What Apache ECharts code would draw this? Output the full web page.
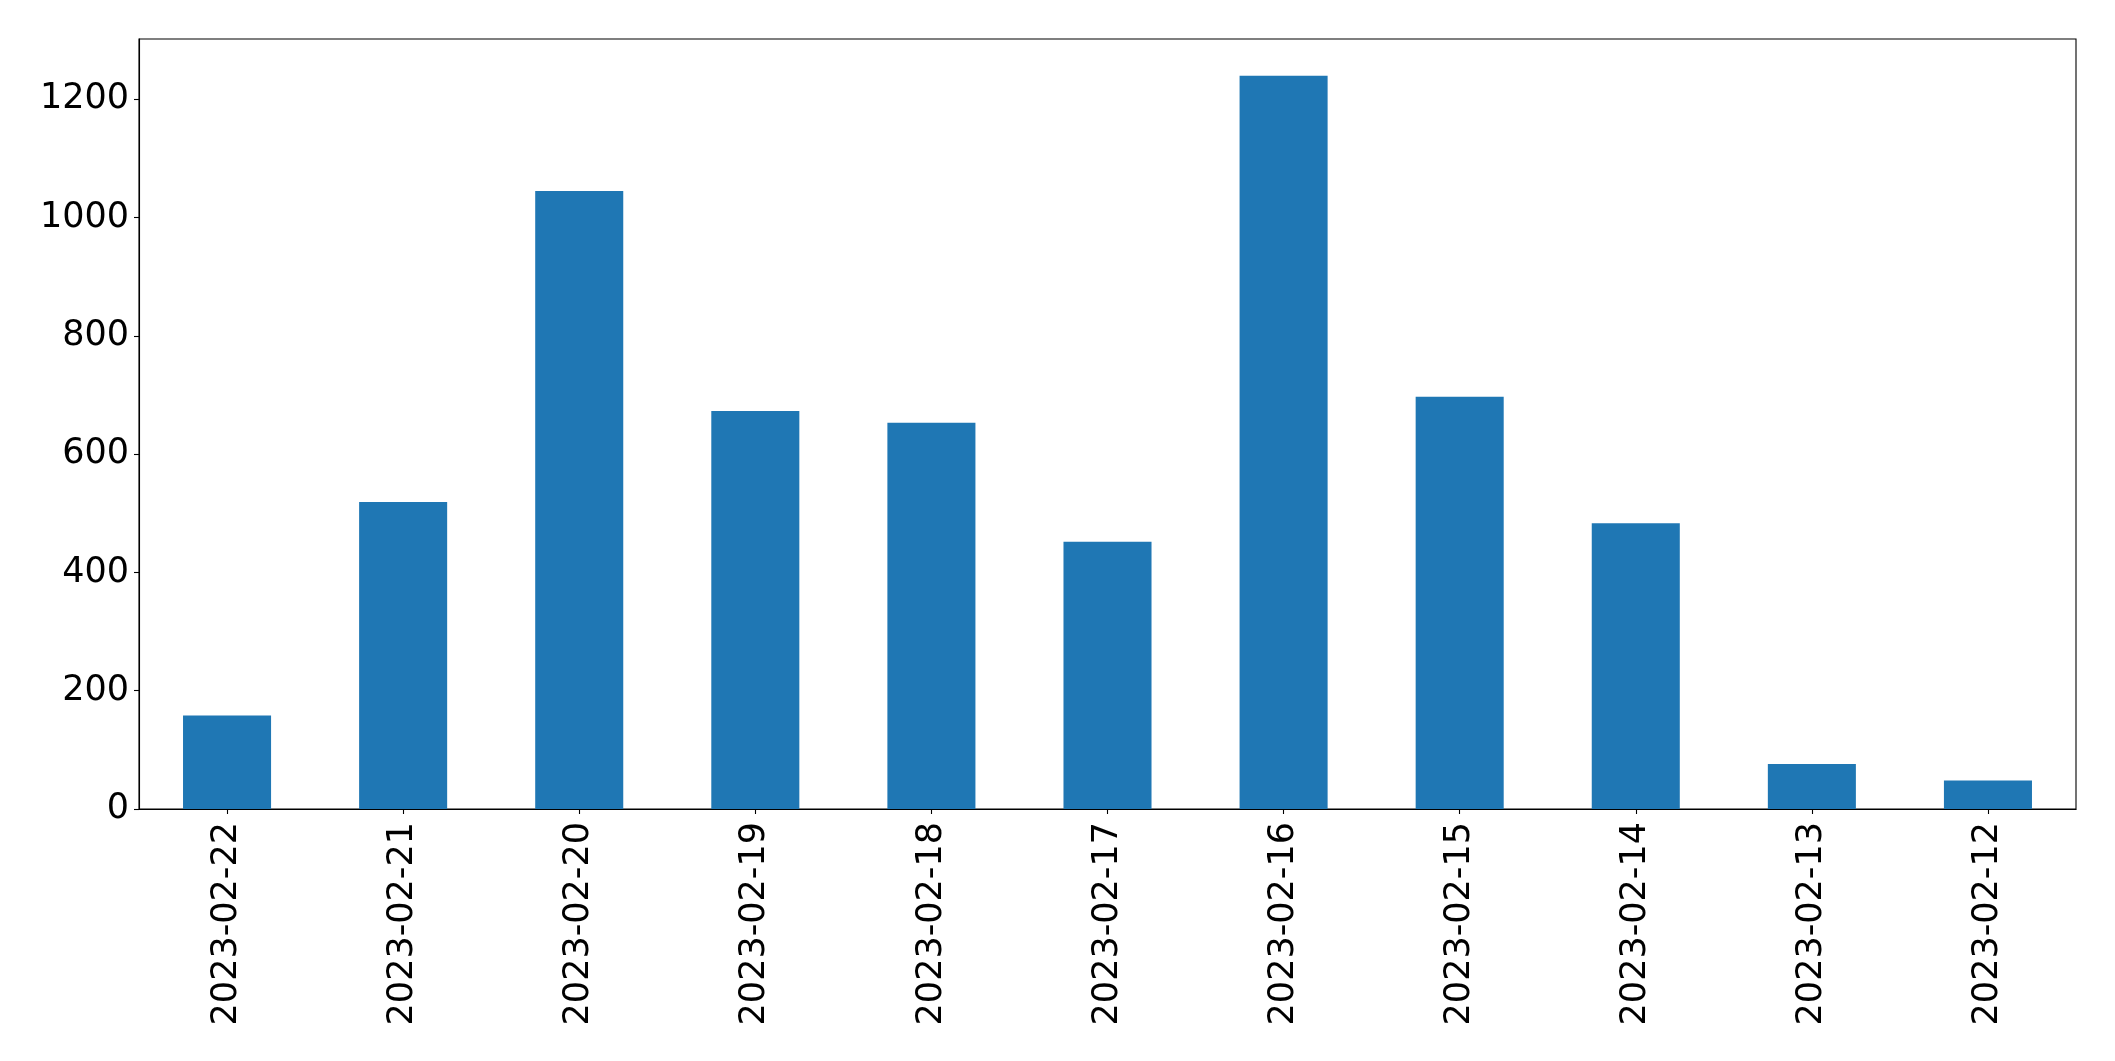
<!DOCTYPE html>
<html>
<head>
<meta charset="utf-8">
<script src="https://cdn.jsdelivr.net/npm/echarts@6/dist/echarts.min.js"></script>
<style>
html,body{margin:0;padding:0;background:#fff;}
#chart{width:2115px;height:1061px;}
</style>
</head>
<body>
<div id="chart"></div>
<script>
const categories = ["2023-02-22","2023-02-21","2023-02-20","2023-02-19","2023-02-18","2023-02-17","2023-02-16","2023-02-15","2023-02-14","2023-02-13","2023-02-12"];
const values = [158, 519, 1045, 673, 653, 452, 1240, 697, 483, 76, 48];
const yMax = 1302;
const yInterval = 200;

const chart = echarts.init(document.getElementById('chart'), null, {renderer: 'canvas'});
const font = 'DejaVu Sans';
chart.setOption({
  animation: false,
  backgroundColor: '#fff',
  grid: {left: 139, right: 39, top: 39, bottom: 252, show: true, borderColor: '#000', borderWidth: 1.1, backgroundColor: 'transparent'},
  xAxis: {
    type: 'category',
    data: categories,
    axisLine: {lineStyle: {color: '#000', width: 1.1}},
    axisTick: {show: true, alignWithLabel: true, length: 5, lineStyle: {color: '#000', width: 1.1}},
    axisLabel: {rotate: 90, color: '#000', fontFamily: font, fontSize: 35, margin: 13, interval: 0},
    splitLine: {show: false}
  },
  yAxis: {
    type: 'value',
    min: 0,
    max: yMax,
    interval: yInterval,
    axisLine: {show: true, lineStyle: {color: '#000', width: 1.1}},
    axisTick: {show: true, length: 5, lineStyle: {color: '#000', width: 1.1}},
    axisLabel: {color: '#000', fontFamily: font, fontSize: 35, margin: 10, showMaxLabel: false, formatter: function (v) { return String(v); }},
    splitLine: {show: false}
  },
  series: [{
    type: 'bar',
    data: values,
    barWidth: '50%',
    itemStyle: {color: '#1f77b4'}
  }]
});
</script>
</body>
</html>
